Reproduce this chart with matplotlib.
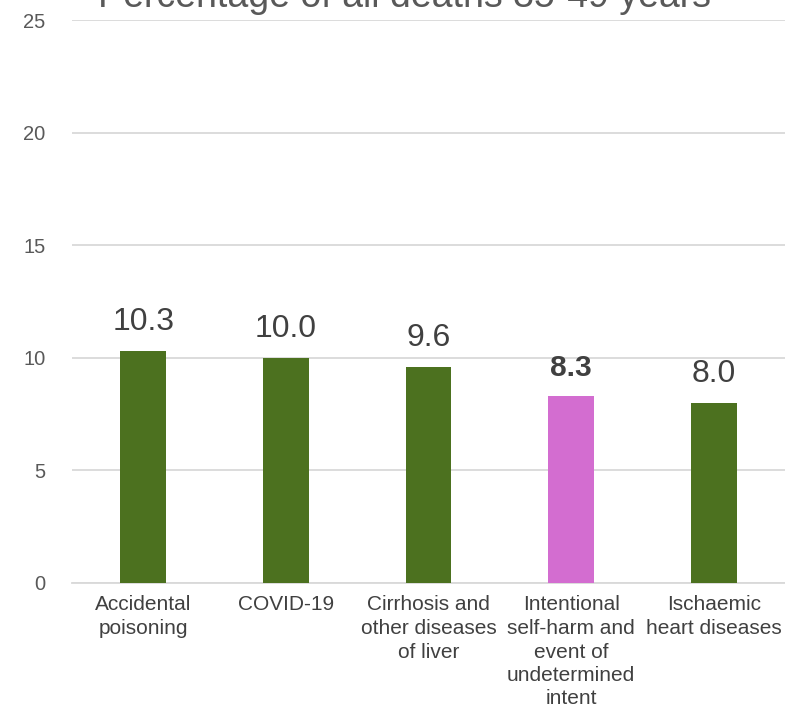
import matplotlib
matplotlib.use("Agg")
import matplotlib.pyplot as plt

plt.rcParams['font.family'] = ['Liberation Sans', 'DejaVu Sans']

categories = [
    "Accidental\npoisoning",
    "COVID-19",
    "Cirrhosis and\nother diseases\nof liver",
    "Intentional\nself-harm and\nevent of\nundetermined\nintent",
    "Ischaemic\nheart diseases",
]
values = [10.3, 10.0, 9.6, 8.3, 8.0]
value_labels = ["10.3", "10.0", "9.6", "8.3", "8.0"]
highlight = [False, False, False, True, False]
yticks = [0, 5, 10, 15, 20, 25]
title = "Percentage of all deaths 35-49 years"

green = "#4C711F"
pink = "#D36DD0"

fig = plt.figure(figsize=(7.85, 7.14), dpi=100)
ax = fig.add_axes([72 / 785, 1 - 583 / 714, 713 / 785, 563 / 714])

x = list(range(len(categories)))
colors = [pink if h else green for h in highlight]
ax.bar(x, values, width=0.32, color=colors, zorder=3)

for xi, v, lab, h in zip(x, values, value_labels, highlight):
    ax.annotate(lab, (xi, v), xytext=(0, 10), textcoords="offset points",
                ha="center", va="bottom", fontsize=21.5 if h else 23,
                fontweight="bold" if h else "normal", color="#404040")

ax.set_xlim(-0.5, len(categories) - 0.5)
ax.set_ylim(0, 25)
ax.set_yticks(yticks)
ax.set_yticklabels([str(t) for t in yticks], fontsize=14.5, color="#595959")
ax.yaxis.grid(True, color="#D9D9D9", linewidth=1.3, zorder=0)
ax.tick_params(axis="y", length=0, pad=19)
ax.set_xticks(x)
ax.set_xticklabels(categories, fontsize=15, color="#404040", linespacing=1.3)
ax.tick_params(axis="x", length=0, pad=9)
for s in ["top", "right", "left"]:
    ax.spines[s].set_visible(False)
ax.spines["bottom"].set_color("#D9D9D9")
ax.spines["bottom"].set_linewidth(1.3)

fig.text(405 / 785, 1 - 7 / 714, title, ha="center", va="baseline",
         fontsize=27, color="#595959")

fig.savefig("out.png", dpi=100)
